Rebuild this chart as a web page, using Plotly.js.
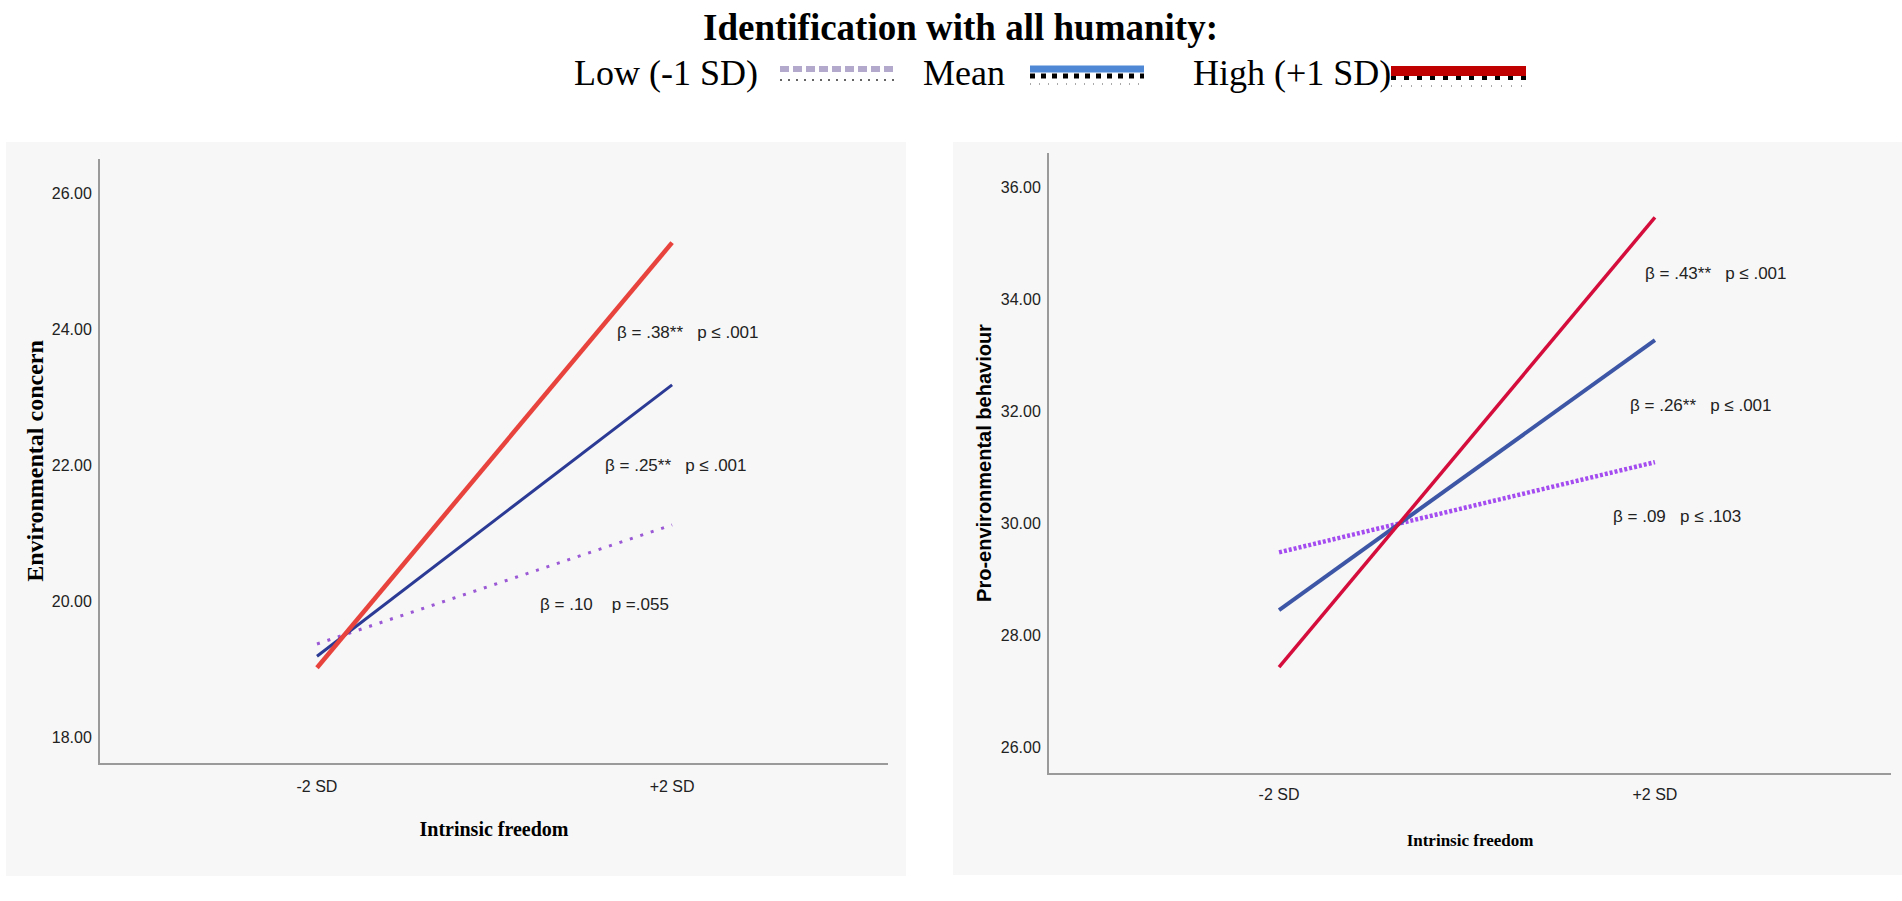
<!DOCTYPE html>
<html>
<head>
<meta charset="utf-8">
<script src="https://cdn.plot.ly/plotly-3.0.1.min.js"></script>
<style>
html,body{margin:0;padding:0;background:#ffffff;}
#chart{width:1902px;height:901px;}
</style>
</head>
<body>
<div id="chart"></div>
<script>
// ---- data ----
const xCats = ['-2 SD', '+2 SD'];
const groupNames = ['Low (-1 SD)', 'Mean', 'High (+1 SD)'];
// Environmental concern (left panel)
const ecLow  = [19.37, 21.12];
const ecMean = [19.19, 23.18];
const ecHigh = [19.02, 25.27];
// Pro-environmental behaviour (right panel)
const pebLow  = [29.48, 31.09];
const pebMean = [28.45, 33.27];
const pebHigh = [27.43, 35.46];
// annotation texts
const ecNotes  = ['β = .38**   p ≤ .001', 'β = .25**   p ≤ .001', 'β = .10    p =.055'];
const pebNotes = ['β = .43**   p ≤ .001', 'β = .26**   p ≤ .001', 'β = .09   p ≤ .103'];

// ---- helpers ----
const W = 1902, H = 901;
const px = v => v / W;
const py = v => 1 - v / H;
const nb = s => s.replace(/ /g, '\u00a0');

const narrow = 'Liberation Sans Narrow, Arial Narrow, Liberation Sans, sans-serif';
const serif = 'Liberation Serif, Times New Roman, serif';

const traces = [
  {x: xCats, y: ecLow,  name: groupNames[0], xaxis: 'x',  yaxis: 'y',  mode: 'lines', showlegend: false,
   line: {color: '#9b59d6', width: 3, dash: '3px,8px'}},
  {x: xCats, y: ecMean, name: groupNames[1], xaxis: 'x',  yaxis: 'y',  mode: 'lines', showlegend: false,
   line: {color: '#2b3a94', width: 3}},
  {x: xCats, y: ecHigh, name: groupNames[2], xaxis: 'x',  yaxis: 'y',  mode: 'lines', showlegend: false,
   line: {color: '#e8433d', width: 4.5}},
  {x: xCats, y: pebLow,  name: groupNames[0], xaxis: 'x2', yaxis: 'y2', mode: 'lines', showlegend: false,
   line: {color: '#a44cf0', width: 4.5, dash: '3px,2px'}},
  {x: xCats, y: pebMean, name: groupNames[1], xaxis: 'x2', yaxis: 'y2', mode: 'lines', showlegend: false,
   line: {color: '#3d57a6', width: 4}},
  {x: xCats, y: pebHigh, name: groupNames[2], xaxis: 'x2', yaxis: 'y2', mode: 'lines', showlegend: false,
   line: {color: '#d40d3c', width: 3.5}}
];

const tickFont = {family: narrow, size: 16, color: '#222'};
const axisCommon = {
  showgrid: false, zeroline: false, showline: true, linecolor: '#9a9a9a', linewidth: 2,
  ticks: '', tickfont: tickFont, fixedrange: true
};

const layout = {
  width: W, height: H,
  margin: {l: 0, r: 0, t: 0, b: 0},
  paper_bgcolor: '#ffffff',
  plot_bgcolor: 'rgba(0,0,0,0)',
  showlegend: false,
  xaxis: Object.assign({}, axisCommon, {
    domain: [px(100), px(888)], anchor: 'y', type: 'category',
    range: [-0.611, 1.608], ticklabelstandoff: 8,
    title: {text: 'Intrinsic freedom', font: {family: serif, size: 20, color: '#000', weight: 'bold'}, standoff: 28}
  }),
  yaxis: Object.assign({}, axisCommon, {
    domain: [py(763), py(159)], anchor: 'x',
    range: [17.62, 26.5], dtick: 2, tick0: 0, tickformat: '.2f', ticklabelstandoff: 3,
    title: {text: 'Environmental concern', font: {family: serif, size: 24, color: '#000', weight: 'bold'}, standoff: 1}
  }),
  xaxis2: Object.assign({}, axisCommon, {
    domain: [px(1049), px(1891)], anchor: 'y2', type: 'category',
    range: [-0.612, 1.628], ticklabelstandoff: 6,
    title: {text: 'Intrinsic freedom', font: {family: serif, size: 17, color: '#000', weight: 'bold'}, standoff: 32}
  }),
  yaxis2: Object.assign({}, axisCommon, {
    domain: [py(773), py(153)], anchor: 'x2',
    range: [25.54, 36.61], dtick: 2, tick0: 0, tickformat: '.2f', ticklabelstandoff: 3,
    title: {text: 'Pro-environmental behaviour', font: {family: 'Liberation Sans, Arial, sans-serif', size: 20, color: '#000', weight: 'bold'}, standoff: 4}
  }),
  shapes: [
    // panel backgrounds
    {type: 'rect', xref: 'paper', yref: 'paper', x0: px(6), x1: px(906), y0: py(876), y1: py(142),
     fillcolor: '#f7f7f7', line: {width: 0}, layer: 'below'},
    {type: 'rect', xref: 'paper', yref: 'paper', x0: px(953), x1: px(1902), y0: py(875), y1: py(142),
     fillcolor: '#f7f7f7', line: {width: 0}, layer: 'below'},
    // legend swatches
    {type: 'line', xref: 'paper', yref: 'paper', x0: px(780), x1: px(897), y0: py(69), y1: py(69),
     line: {color: '#b3a9cc', width: 6, dash: '9px,4px'}},
    {type: 'line', xref: 'paper', yref: 'paper', x0: px(780), x1: px(897), y0: py(80), y1: py(80),
     line: {color: '#333', width: 1.5, dash: '2px,6px'}},
    {type: 'line', xref: 'paper', yref: 'paper', x0: px(1030), x1: px(1144), y0: py(69), y1: py(69),
     line: {color: '#4f88d4', width: 7}},
    {type: 'line', xref: 'paper', yref: 'paper', x0: px(1030), x1: px(1144), y0: py(76), y1: py(76),
     line: {color: '#000', width: 5, dash: '5px,6px'}},
    {type: 'line', xref: 'paper', yref: 'paper', x0: px(1030), x1: px(1144), y0: py(84), y1: py(84),
     line: {color: '#555', width: 1, dash: '1px,8px'}},
    {type: 'line', xref: 'paper', yref: 'paper', x0: px(1391), x1: px(1526), y0: py(71), y1: py(71),
     line: {color: '#c00000', width: 10}},
    {type: 'line', xref: 'paper', yref: 'paper', x0: px(1391), x1: px(1526), y0: py(78), y1: py(78),
     line: {color: '#000', width: 4, dash: '5px,8px'}},
    {type: 'line', xref: 'paper', yref: 'paper', x0: px(1391), x1: px(1526), y0: py(86), y1: py(86),
     line: {color: '#555', width: 1, dash: '1px,9px'}}
  ],
  annotations: [
    {xref: 'paper', yref: 'paper', x: px(960), y: py(27), xanchor: 'center', yanchor: 'middle', showarrow: false,
     text: '<b>Identification with all humanity:</b>', font: {family: serif, size: 37, color: '#000'}},
    {xref: 'paper', yref: 'paper', x: px(572), y: py(73), xanchor: 'left', yanchor: 'middle', showarrow: false,
     text: groupNames[0], font: {family: serif, size: 36, color: '#000'}},
    {xref: 'paper', yref: 'paper', x: px(921), y: py(73), xanchor: 'left', yanchor: 'middle', showarrow: false,
     text: groupNames[1], font: {family: serif, size: 36, color: '#000'}},
    {xref: 'paper', yref: 'paper', x: px(1191), y: py(73), xanchor: 'left', yanchor: 'middle', showarrow: false,
     text: groupNames[2], font: {family: serif, size: 36, color: '#000'}},
    // left panel notes
    {xref: 'x', yref: 'y', x: 0.839, y: 23.95, xanchor: 'left', yanchor: 'middle', showarrow: false,
     text: nb(ecNotes[0]), font: {family: narrow, size: 17, color: '#222'}},
    {xref: 'x', yref: 'y', x: 0.806, y: 21.99, xanchor: 'left', yanchor: 'middle', showarrow: false,
     text: nb(ecNotes[1]), font: {family: narrow, size: 17, color: '#222'}},
    {xref: 'x', yref: 'y', x: 0.623, y: 19.95, xanchor: 'left', yanchor: 'middle', showarrow: false,
     text: nb(ecNotes[2]), font: {family: narrow, size: 17, color: '#222'}},
    // right panel notes
    {xref: 'x2', yref: 'y2', x: 0.968, y: 34.45, xanchor: 'left', yanchor: 'middle', showarrow: false,
     text: nb(pebNotes[0]), font: {family: narrow, size: 17, color: '#222'}},
    {xref: 'x2', yref: 'y2', x: 0.928, y: 32.11, xanchor: 'left', yanchor: 'middle', showarrow: false,
     text: nb(pebNotes[1]), font: {family: narrow, size: 17, color: '#222'}},
    {xref: 'x2', yref: 'y2', x: 0.883, y: 30.125, xanchor: 'left', yanchor: 'middle', showarrow: false,
     text: nb(pebNotes[2]), font: {family: narrow, size: 17, color: '#222'}}
  ]
};

Plotly.newPlot('chart', traces, layout, {displayModeBar: false, staticPlot: true});
</script>
</body>
</html>
